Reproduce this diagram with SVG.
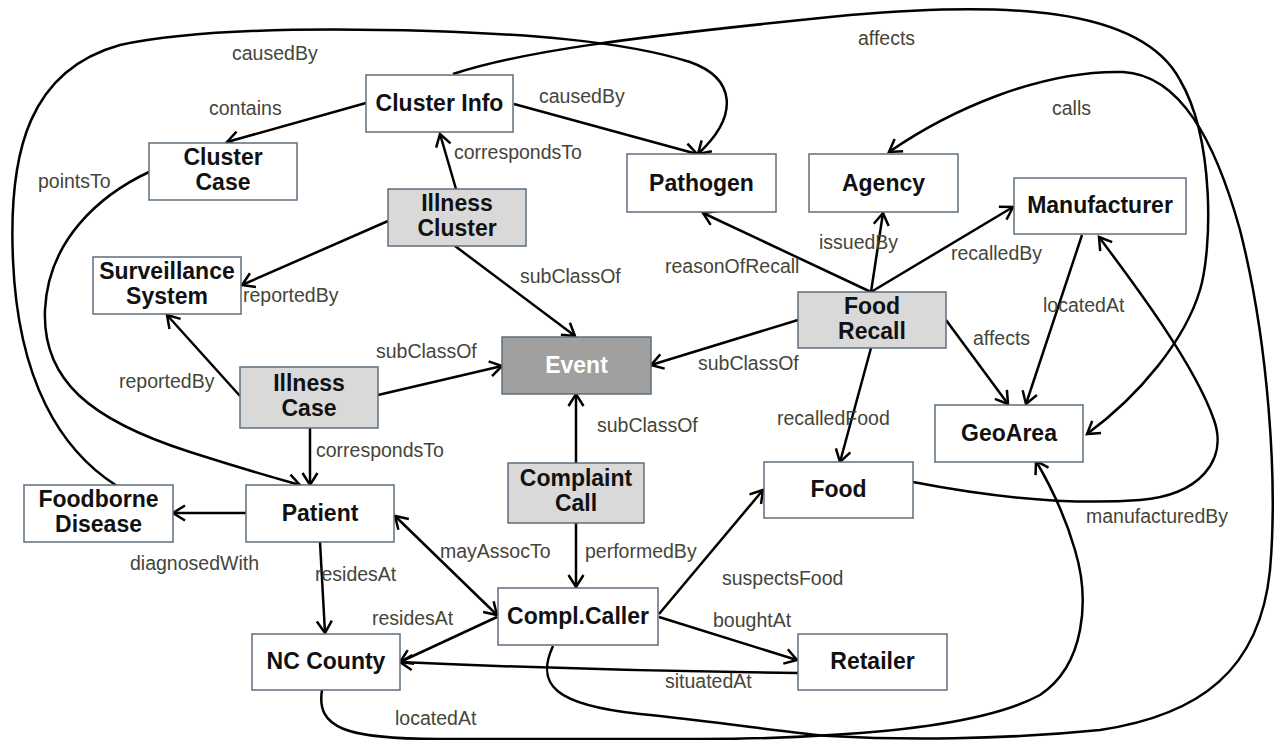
<svg xmlns="http://www.w3.org/2000/svg" width="1276" height="740" viewBox="0 0 1276 740">
<style>
.box{fill:#ffffff;stroke:#5e6e7e;stroke-width:1.5}
.g{fill:#d9d9d9}
.ev{fill:#a0a0a0}
.nt{font-family:"Liberation Sans",Arial,sans-serif;font-weight:bold;font-size:23px;fill:#111;text-anchor:middle}
.wt{fill:#ffffff}
.e{fill:none;stroke:#000;stroke-width:2.5}
.a{marker-end:url(#arr)}
.lb{font-family:"Liberation Sans",Arial,sans-serif;font-size:19.5px;fill:#45453a}
</style>
<defs>
<marker id="arr" markerUnits="userSpaceOnUse" viewBox="-15 -9 18 18" markerWidth="18" markerHeight="18" refX="0" refY="0" orient="auto-start-reverse">
<path d="M-12,-7.5 L0,0 L-12,7.5" fill="none" stroke="#000" stroke-width="2.5"/>
</marker>
</defs>
<rect width="1276" height="740" fill="#ffffff"/>
<g id="connectors">
<path class="e a" d="M366,103 L227,142"/>
<path class="e a" d="M514,104 L697,154"/>
<path class="e a" d="M456,189 L440,134"/>
<path class="e a" d="M388,221 L242,285"/>
<path class="e a" d="M455,246 L575,336"/>
<path class="e a" d="M240,396 L167,315"/>
<path class="e a" d="M378,395 L502,366"/>
<path class="e a" d="M310,428 L310,485"/>
<path class="e a" d="M798,320 L651,365"/>
<path class="e a" d="M576,463 L576,394"/>
<path class="e a" d="M871,292 L703,213"/>
<path class="e a" d="M871,292 L883,213"/>
<path class="e a" d="M871,292 L1013,207"/>
<path class="e a" d="M946,320 L1008,404"/>
<path class="e a" d="M871,348 L840,462"/>
<path class="e a" d="M1082,235 L1026,404"/>
<path class="e a" d="M246,513 L173,513"/>
<path class="e a" d="M320,542 L325,633"/>
<path class="e a" d="M395,516 L497,615" marker-start="url(#arr)"/>
<path class="e a" d="M576,523 L576,587"/>
<path class="e a" d="M497,617 L400,662"/>
<path class="e a" d="M798,673 Q600,671 400,662"/>
<path class="e a" d="M659,614 L763,490"/>
<path class="e a" d="M659,617 L797,660"/>
<path class="e a" d="M553,646 C535,685 555,705 640,714 C720,722 790,733 830,736 C900,740 1000,740 1100,730 C1200,715 1260,670 1270,570 C1278,480 1268,340 1240,230 C1215,140 1180,75 1123,72 C1040,70 950,110 889,152"/>
<path class="e a" d="M322,690 C316,728 345,739 440,739 L700,739 C760,739 800,737 830,735 C900,731 990,722 1040,695 C1085,665 1090,600 1075,550 C1065,515 1050,485 1036,461"/>
<path class="e a" d="M913,482 C980,495 1060,506 1140,500 C1200,495 1228,460 1214,420 C1195,365 1135,285 1099,237"/>
<path class="e a" d="M453,74 C520,52 620,38 850,15 C1000,2 1140,5 1180,80 C1215,140 1212,250 1200,290 C1185,340 1140,395 1087,434"/>
<path class="e a" d="M117,486 C60,450 18,380 13,260 C8,150 30,70 120,45 C200,28 330,28 430,31 C520,34 620,40 690,62 C735,78 740,115 698,154"/>
<path class="e a" d="M149,172 C100,195 48,240 45,310 C42,380 90,420 190,452 C240,468 275,478 300,485"/>
</g>
<g id="labels">
<text class="lb" x="232" y="60">causedBy</text>
<text class="lb" x="209" y="115">contains</text>
<text class="lb" x="38" y="188">pointsTo</text>
<text class="lb" x="539" y="103">causedBy</text>
<text class="lb" x="454" y="159">correspondsTo</text>
<text class="lb" x="858" y="45">affects</text>
<text class="lb" x="1052" y="115">calls</text>
<text class="lb" x="243" y="302">reportedBy</text>
<text class="lb" x="119" y="388">reportedBy</text>
<text class="lb" x="376" y="358">subClassOf</text>
<text class="lb" x="316" y="457">correspondsTo</text>
<text class="lb" x="520" y="283">subClassOf</text>
<text class="lb" x="665" y="273">reasonOfRecall</text>
<text class="lb" x="698" y="370">subClassOf</text>
<text class="lb" x="597" y="432">subClassOf</text>
<text class="lb" x="777" y="425">recalledFood</text>
<text class="lb" x="819" y="249">issuedBy</text>
<text class="lb" x="951" y="260">recalledBy</text>
<text class="lb" x="1043" y="312">locatedAt</text>
<text class="lb" x="973" y="345">affects</text>
<text class="lb" x="1086" y="523">manufacturedBy</text>
<text class="lb" x="130" y="570">diagnosedWith</text>
<text class="lb" x="315" y="581">residesAt</text>
<text class="lb" x="372" y="625">residesAt</text>
<text class="lb" x="395" y="725">locatedAt</text>
<text class="lb" x="440" y="558">mayAssocTo</text>
<text class="lb" x="585" y="558">performedBy</text>
<text class="lb" x="722" y="585">suspectsFood</text>
<text class="lb" x="713" y="627">boughtAt</text>
<text class="lb" x="665" y="688">situatedAt</text>
</g>
<g id="clusterInfo"><rect class="box" x="366" y="75" width="147" height="57"/><text class="nt" x="439.5" y="111">Cluster Info</text></g>
<g id="clusterCase"><rect class="box" x="149" y="143" width="148" height="57"/><text class="nt" x="223" y="165">Cluster</text><text class="nt" x="223" y="190">Case</text></g>
<g id="illnessCluster"><rect class="box g" x="388" y="189" width="138" height="57"/><text class="nt" x="457" y="211">Illness</text><text class="nt" x="457" y="236">Cluster</text></g>
<g id="pathogen"><rect class="box" x="627" y="154" width="149" height="58"/><text class="nt" x="701.5" y="191">Pathogen</text></g>
<g id="agency"><rect class="box" x="809" y="154" width="149" height="58"/><text class="nt" x="883.5" y="191">Agency</text></g>
<g id="manufacturer"><rect class="box" x="1014" y="178" width="172" height="56"/><text class="nt" x="1100" y="213">Manufacturer</text></g>
<g id="surveillanceSystem"><rect class="box" x="93" y="257" width="148" height="57"/><text class="nt" x="167" y="279">Surveillance</text><text class="nt" x="167" y="304">System</text></g>
<g id="illnessCase"><rect class="box g" x="240" y="367" width="138" height="61"/><text class="nt" x="309" y="391">Illness</text><text class="nt" x="309" y="416">Case</text></g>
<g id="event"><rect class="box ev" x="502" y="337" width="149" height="57"/><text class="nt wt" x="576.5" y="373">Event</text></g>
<g id="foodRecall"><rect class="box g" x="798" y="292" width="148" height="56"/><text class="nt" x="872" y="314">Food</text><text class="nt" x="872" y="339">Recall</text></g>
<g id="geoArea"><rect class="box" x="935" y="405" width="148" height="57"/><text class="nt" x="1009" y="441">GeoArea</text></g>
<g id="complaintCall"><rect class="box g" x="508" y="463" width="136" height="60"/><text class="nt" x="576" y="486">Complaint</text><text class="nt" x="576" y="511">Call</text></g>
<g id="food"><rect class="box" x="764" y="462" width="149" height="56"/><text class="nt" x="838.5" y="497">Food</text></g>
<g id="foodborneDisease"><rect class="box" x="24" y="485" width="149" height="57"/><text class="nt" x="98.5" y="507">Foodborne</text><text class="nt" x="98.5" y="532">Disease</text></g>
<g id="patient"><rect class="box" x="246" y="485" width="148" height="57"/><text class="nt" x="320" y="521">Patient</text></g>
<g id="ncCounty"><rect class="box" x="252" y="634" width="148" height="56"/><text class="nt" x="326" y="669">NC County</text></g>
<g id="complCaller"><rect class="box" x="498" y="588" width="160" height="57"/><text class="nt" x="578" y="624">Compl.Caller</text></g>
<g id="retailer"><rect class="box" x="798" y="634" width="149" height="56"/><text class="nt" x="872.5" y="669">Retailer</text></g>
</svg>
